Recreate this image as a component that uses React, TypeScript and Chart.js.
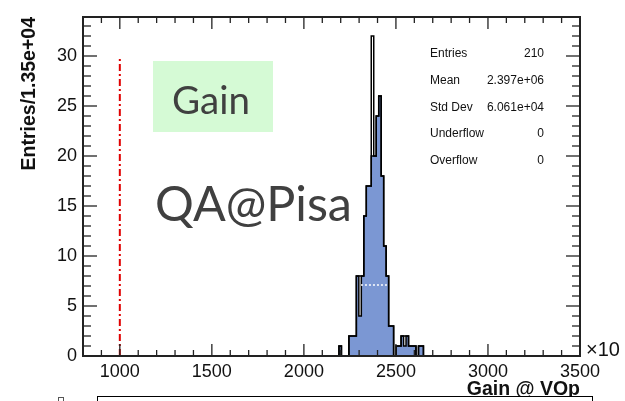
import React, { useEffect, useRef } from 'react';
import { Chart, registerables } from 'chart.js';

Chart.register(...registerables);

// ---- data ----
const xMin = 800;
const xMax = 3500;
const yMax = 33.9;
const binWidth = 13.5; // axis units (x 10^3)
const histStart = 2150; // lower edge of the first listed bin
const filledCounts = [0, 0, 0, 0, 1, 0, 0, 0, 2, 2, 2, 8, 4, 8, 14, 17, 17, 20, 20, 24, 26, 18, 11, 8, 3, 3, 0, 1, 1, 2, 1, 2, 1, 1, 1, 0, 1, 1, 0, 0];
const outlineCounts = [0, 0, 0, 0, 1, 0, 0, 0, 2, 2, 2, 8, 8, 8, 14, 17, 17, 32, 20, 24, 26, 18, 11, 8, 3, 3, 0, 1, 1, 2, 2, 2, 1, 1, 1, 0, 1, 1, 0, 0];
const xTicks = [1000, 1500, 2000, 2500, 3000, 3500];
const yTicks = [0, 5, 10, 15, 20, 25, 30];
const cutLineX = [1000, 1000];
const cutLineY = [0, 30];
const meanBarX = [2310, 2455];
const meanBarY = [7.1, 7.1];
const statsLabels = ['Entries', 'Mean', 'Std Dev', 'Underflow', 'Overflow'];
const statsValues = ['210', '2.397e+06', '6.061e+04', '0', '0'];
const yTitle = 'Entries/1.35e+04';
const xTitle = 'Gain @ VOp';

function toSteps(counts: number[]) {
  const pts = counts.map((c, i) => ({ x: histStart + i * binWidth, y: c }));
  pts.push({ x: histStart + counts.length * binWidth, y: 0 });
  return pts;
}

function fitFontSize(ctx: CanvasRenderingContext2D, text: string, family: string, target: number) {
  ctx.font = `100px ${family}`;
  const w = ctx.measureText(text).width;
  return (100 * target) / w;
}

const overlayPlugin = {
  id: 'rootOverlay',
  afterDraw(chart: any) {
    const { ctx, chartArea: a, scales } = chart;
    const x = scales.x;
    const y = scales.y;
    ctx.save();

    // ticks (ROOT style, inside the frame)
    ctx.strokeStyle = '#222';
    ctx.lineWidth = 1.3;
    const seg = (x1: number, y1: number, x2: number, y2: number) => {
      ctx.beginPath();
      ctx.moveTo(x1, y1);
      ctx.lineTo(x2, y2);
      ctx.stroke();
    };
    for (let v = 0; v <= Math.floor(yMax); v++) {
      const py = y.getPixelForValue(v);
      const len = v % 5 === 0 ? 14 : 8;
      seg(a.left, py, a.left + len, py);
      seg(a.right, py, a.right - len, py);
    }
    for (let v = xMin; v <= xMax; v += 100) {
      const px = x.getPixelForValue(v);
      const len = v % 500 === 0 ? 12 : 6;
      seg(px, a.bottom, px, a.bottom - len);
      seg(px, a.top, px, a.top + len);
    }
    // frame
    ctx.lineWidth = 2;
    ctx.strokeRect(a.left, a.top, a.right - a.left, a.bottom - a.top);

    // exponent label
    ctx.fillStyle = '#111';
    ctx.font = '20px "Liberation Sans", Arial, sans-serif';
    ctx.textAlign = 'left';
    ctx.textBaseline = 'alphabetic';
    ctx.fillText('\u00d710', 586, 356);

    // stats box
    ctx.font = '12px "Liberation Sans", Arial, sans-serif';
    ctx.textBaseline = 'middle';
    const rowY = [54, 80.7, 107.4, 134, 160.7];
    statsLabels.forEach((lab, i) => {
      ctx.textAlign = 'left';
      ctx.fillText(lab, 430, rowY[i]);
      ctx.textAlign = 'right';
      ctx.fillText(statsValues[i], 544, rowY[i]);
    });

    // "Gain" label box
    ctx.fillStyle = '#d5fad5';
    ctx.fillRect(153, 61, 120, 71);
    const fam = '"Lato", "Open Sans", sans-serif';
    ctx.fillStyle = '#404040';
    ctx.textAlign = 'left';
    ctx.textBaseline = 'alphabetic';
    let fs = fitFontSize(ctx, 'Gain', fam, 78);
    ctx.font = `${fs}px ${fam}`;
    ctx.fillText('Gain', 172, 114);
    fs = fitFontSize(ctx, 'QA@Pisa', fam, 197);
    ctx.font = `${fs}px ${fam}`;
    ctx.fillText('QA@Pisa', 155, 221);

    // bottom box fragment
    ctx.fillStyle = '#fff';
    ctx.fillRect(97, 396, 495, 10);
    ctx.strokeStyle = '#000';
    ctx.lineWidth = 1;
    ctx.strokeRect(97.5, 396.5, 495, 10);
    ctx.strokeStyle = '#555';
    ctx.strokeRect(58.5, 397.5, 5, 6);

    ctx.restore();
  },
};

export default function App() {
  const ref = useRef<HTMLCanvasElement | null>(null);

  useEffect(() => {
    if (!ref.current) return;
    const chart = new Chart(ref.current, {
      type: 'line',
      data: {
        datasets: [
          {
            label: 'cut',
            data: cutLineX.map((v, i) => ({ x: v, y: cutLineY[i] })),
            borderColor: '#e00000',
            borderWidth: 2,
            borderDash: [7, 3, 2, 3],
            pointRadius: 0,
            fill: false,
            order: 1,
          },
          {
            label: 'mean',
            data: meanBarX.map((v, i) => ({ x: v, y: meanBarY[i] })),
            borderColor: '#ffffff',
            borderWidth: 1.5,
            borderDash: [2, 2],
            pointRadius: 0,
            fill: false,
            order: 2,
          },
          {
            label: 'outline',
            data: toSteps(outlineCounts),
            borderColor: '#000',
            borderWidth: 1.5,
            stepped: 'after',
            pointRadius: 0,
            fill: false,
            order: 3,
          },
          {
            label: 'gain',
            data: toSteps(filledCounts),
            borderColor: '#000',
            backgroundColor: '#7b97d3',
            borderWidth: 1.5,
            stepped: 'after',
            pointRadius: 0,
            fill: 'origin',
            order: 4,
          },
        ],
      },
      options: {
        animation: false,
        responsive: false,
        devicePixelRatio: 1,
        parsing: false,
        layout: { padding: { left: 0, top: 17, right: 45, bottom: 0 } },
        plugins: { legend: { display: false }, tooltip: { enabled: false } },
        scales: {
          x: {
            type: 'linear',
            min: xMin,
            max: xMax,
            grid: { display: false, drawTicks: false },
            border: { display: false },
            afterBuildTicks: (s: any) => {
              s.ticks = xTicks.map((v) => ({ value: v }));
            },
            afterFit: (s: any) => {
              s.height = 45;
            },
            ticks: {
              autoSkip: false,
              maxRotation: 0,
              padding: 5,
              color: '#111',
              font: { family: '"Liberation Sans", Arial, sans-serif', size: 18 },
              callback: (v: any) => String(v),
            },
            title: {
              display: true,
              text: xTitle,
              align: 'end',
              color: '#111',
              font: { family: '"Liberation Sans", Arial, sans-serif', size: 19.5, weight: 'bold' },
              padding: { top: 3, bottom: 0 },
            },
          },
          y: {
            type: 'linear',
            min: 0,
            max: yMax,
            grid: { display: false, drawTicks: false },
            border: { display: false },
            afterBuildTicks: (s: any) => {
              s.ticks = yTicks.map((v) => ({ value: v }));
            },
            afterFit: (s: any) => {
              s.width = 83;
            },
            ticks: {
              padding: 6,
              color: '#111',
              font: { family: '"Liberation Sans", Arial, sans-serif', size: 18 },
              callback: (v: any) => String(v),
            },
            title: {
              display: true,
              text: yTitle,
              align: 'end',
              color: '#111',
              font: { family: '"Liberation Sans", Arial, sans-serif', size: 19.5, weight: 'bold' },
              padding: { top: 18, bottom: 0 },
            },
          },
        },
      },
      plugins: [overlayPlugin],
    } as any);
    return () => chart.destroy();
  }, []);

  return (
    <div style={{ position: 'fixed', left: 0, top: 0, width: 625, height: 401, background: '#fff' }}>
      <canvas ref={ref} width={625} height={401} />
    </div>
  );
}
